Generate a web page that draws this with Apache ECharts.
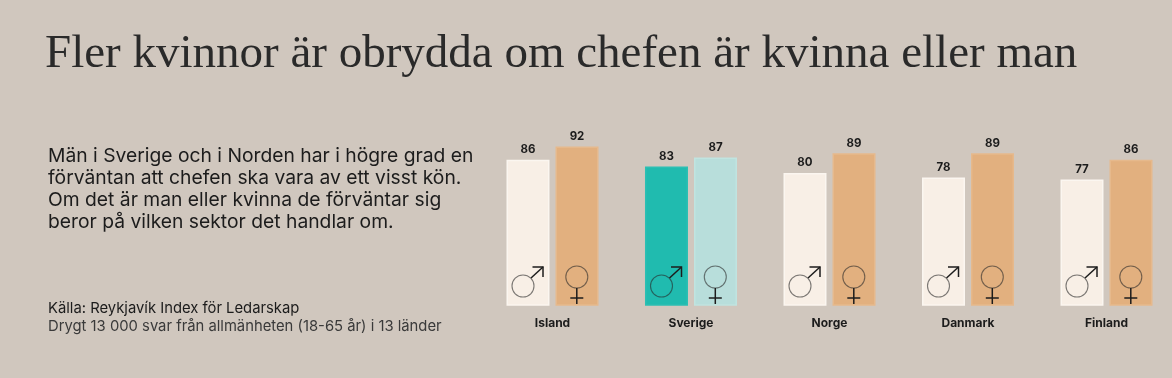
<!DOCTYPE html>
<html><head><meta charset="utf-8">
<style>html,body{margin:0;padding:0;background:#d0c7be}#c{width:1172px;height:378px}</style>
<script src="https://cdn.jsdelivr.net/npm/echarts@6/dist/echarts.min.js"></script>
</head><body><div id="c"></div>
<script>
const categories = ['Island','Sverige','Norge','Danmark','Finland'];
const men = [86,83,80,78,77];
const women = [92,87,89,89,86];
const highlighted = 'Sverige';
const titleText = 'Fler kvinnor är obrydda om chefen är kvinna eller man';
const bodyLines = ['Män i Sverige och i Norden har i högre grad en','förväntan att chefen ska vara av ett visst kön.','Om det är man eller kvinna de förväntar sig','beror på vilken sektor det handlar om.'];
const sourceLines = ['Källa: Reykjavík Index för Ledarskap','Drygt 13 000 svar från allmänheten (18-65 år) i 13 länder'];

const SANS = '"Inter","Open Sans",sans-serif';
const INK = '#1c1c1c';
const barStyle = (c, main, edge, hiMain, hiEdge) => c === highlighted
  ? {color: hiMain, borderColor: hiEdge, borderWidth: 1.5}
  : {color: main, borderColor: edge, borderWidth: 1.5};

const chart = echarts.init(document.getElementById('c'), null, {renderer: 'canvas'});

function symbolItem(kind) {
  return function (params, api) {
    const p = api.coord([api.value(0), 20]);
    const cx = p[0], by = p[1];
    const stroke = {stroke: INK, lineWidth: 1.5, fill: 'none'};
    const ring = {stroke: 'rgba(40,40,40,0.6)', lineWidth: 1.1, fill: 'none'};
    if (kind === 'm') {
      const x = cx - 29.5, y = by - 19;
      return {type: 'group', children: [
        {type: 'circle', shape: {cx: x, cy: y, r: 11}, style: ring},
        {type: 'polyline', shape: {points: [[x + 8, y - 8], [x + 20, y - 19]]}, style: stroke},
        {type: 'polyline', shape: {points: [[x + 9.5, y - 19], [x + 20, y - 19], [x + 20, y - 9]]}, style: stroke}
      ]};
    }
    const x = cx + 24.3, y = by - 28;
    return {type: 'group', children: [
      {type: 'circle', shape: {cx: x, cy: y, r: 11}, style: ring},
      {type: 'line', shape: {x1: x, y1: y + 11, x2: x, y2: y + 27}, style: stroke},
      {type: 'line', shape: {x1: x - 6.5, y1: y + 21, x2: x + 6.5, y2: y + 21}, style: stroke}
    ]};
  };
}

const label = {show: true, position: 'top', distance: 4, color: INK, fontFamily: SANS, fontWeight: 'bold', fontSize: 11.5};

chart.setOption({
  animation: false,
  backgroundColor: '#d0c7be',
  title: [
    {text: titleText, left: 40, top: 26, textStyle: {fontFamily: '"Liberation Serif",serif', fontWeight: 'normal', fontSize: 47, color: '#2a2a2a'}},
    ...bodyLines.map((t, i) => ({text: t, left: 43, top: 141.5 + i * 22.2, textStyle: {fontFamily: SANS, fontWeight: 'normal', fontSize: 19.3, color: INK}})),
    ...sourceLines.map((t, i) => ({text: t, left: 43, top: 296 + i * 18, textStyle: {fontFamily: SANS, fontWeight: 'normal', fontSize: 14.8, color: i ? '#3a3a3a' : INK}}))
  ],
  grid: {left: 483.25, width: 692.5, top: 129, height: 176, outerBoundsMode: 'none'},
  xAxis: {type: 'category', data: categories, axisLine: {show: false}, axisTick: {show: false},
    axisLabel: {color: INK, fontFamily: SANS, fontWeight: 'bold', fontSize: 12, margin: 12}},
  yAxis: {type: 'value', min: 20, max: 100, show: false},
  series: [
    {type: 'bar', name: 'Män', barWidth: 43, barGap: '14%', label,
      data: men.map((v, i) => ({value: v, itemStyle: barStyle(categories[i], '#f8efe6', '#fbf6f0', '#20bbaf', '#2bbfb3')}))},
    {type: 'bar', name: 'Kvinnor', barWidth: 43, label,
      data: women.map((v, i) => ({value: v, itemStyle: barStyle(categories[i], '#e2b07f', '#e6b98c', '#b8dedb', '#c0e4e0')}))},
    {type: 'custom', name: 'symM', renderItem: symbolItem('m'), data: categories.map((c, i) => [i]), z: 5, silent: true},
    {type: 'custom', name: 'symK', renderItem: symbolItem('k'), data: categories.map((c, i) => [i]), z: 5, silent: true}
  ]
});
</script></body></html>
